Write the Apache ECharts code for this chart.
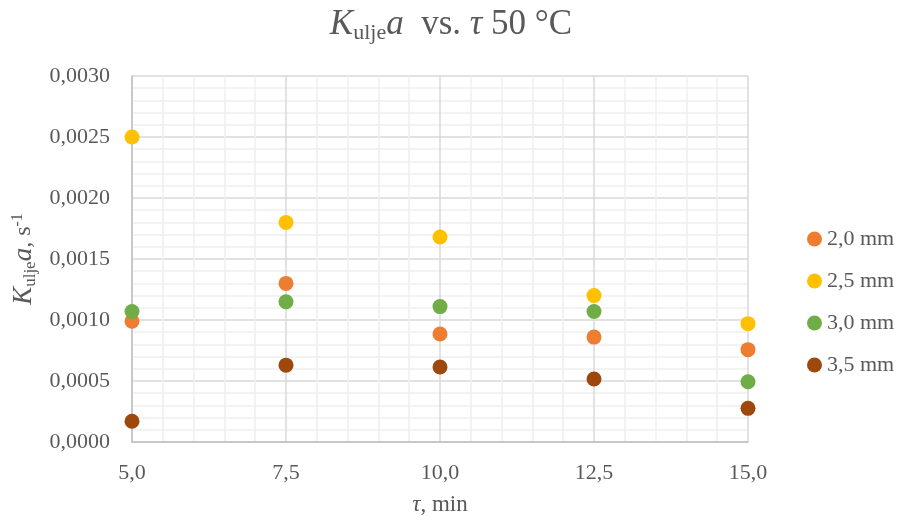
<!DOCTYPE html>
<html><head><meta charset="utf-8">
<script src="https://cdn.jsdelivr.net/npm/echarts@6/dist/echarts.min.js"></script>
<style>html,body{margin:0;padding:0;background:#fff}#c{width:902px;height:522px}</style>
</head><body><div id="c"></div>
<script>
const times = [5.0, 7.5, 10.0, 12.5, 15.0];
const seriesNames = ['2,0 mm', '2,5 mm', '3,0 mm', '3,5 mm'];
const s20 = [0.00099, 0.00130, 0.000885, 0.00086, 0.000757];
const s25 = [0.00250, 0.00180, 0.00168, 0.00120, 0.00097];
const s30 = [0.00107, 0.00115, 0.00111, 0.00107, 0.000494];
const s35 = [0.00017, 0.00063, 0.000615, 0.000516, 0.000276];
const colors = ['#ED7D31', '#FFC000', '#70AD47', '#9E480E'];
const values = [s20, s25, s30, s35];

const FF = '"Liberation Serif","Times New Roman",serif';
const TC = '#595959';
const chart = echarts.init(document.getElementById('c'));
chart.setOption({
  animation: false,
  backgroundColor: '#fff',
  textStyle: {fontFamily: FF},
  title: {
    text: '{k|K}{sub|ulje}{k|a}{n|  vs. }{k|τ}{n| 50 °C}',
    left: 'center', top: 1,
    textStyle: {
      fontWeight: 'normal',
      rich: {
        k: {fontFamily: FF, fontSize: 35, fontStyle: 'italic', fontWeight: 'normal', color: TC, lineHeight: 38},
        n: {fontFamily: FF, fontSize: 35, fontWeight: 'normal', color: TC, lineHeight: 38},
        sub: {fontFamily: FF, fontSize: 22, fontWeight: 'normal', color: TC, lineHeight: 38, padding: [17, 0, 0, 0]}
      }
    }
  },
  legend: {
    orient: 'vertical', left: 802, top: 223, itemGap: 20,
    icon: 'circle', itemWidth: 15, itemHeight: 15,
    textStyle: {fontFamily: FF, fontSize: 22, color: TC, lineHeight: 22, padding: [0, 0, 0, 0]},
    data: seriesNames
  },
  grid: {left: 132, right: 154, top: 76, bottom: 80, containLabel: false, outerBoundsMode: 'none'},
  xAxis: {
    type: 'value', min: 5, max: 15, interval: 2.5,
    name: '{k|τ}{n|, min}', nameLocation: 'middle', nameGap: 51,
    nameTextStyle: {rich: {
      k: {fontFamily: FF, fontSize: 23, fontStyle: 'italic', color: TC},
      n: {fontFamily: FF, fontSize: 23, color: TC}
    }},
    axisLine: {show: true, lineStyle: {color: '#bfbfbf', width: 1.5}},
    axisTick: {show: false},
    axisLabel: {fontFamily: FF, fontSize: 22, color: TC, margin: 20,
      formatter: v => v.toFixed(1).replace('.', ',')},
    splitLine: {show: true, lineStyle: {color: '#d9d9d9', width: 1.5}},
    minorTick: {show: false, splitNumber: 5},
    minorSplitLine: {show: true, lineStyle: {color: '#efefef', width: 1.5}}
  },
  yAxis: {
    type: 'value', min: 0, max: 0.003, interval: 0.0005,
    name: '{k|K}{sub|ulje}{k|a}{n|, s}{sup|-1}', nameLocation: 'middle', nameGap: 92, nameRotate: 90,
    nameTextStyle: {rich: {
      k: {fontFamily: FF, fontSize: 27, fontStyle: 'italic', color: TC, lineHeight: 30},
      n: {fontFamily: FF, fontSize: 24, color: TC, lineHeight: 30},
      sub: {fontFamily: FF, fontSize: 17, color: TC, lineHeight: 30, padding: [12, 0, 0, 0]},
      sup: {fontFamily: FF, fontSize: 16, color: TC, lineHeight: 30, padding: [0, 0, 12, 0]}
    }},
    axisLine: {show: true, lineStyle: {color: '#bfbfbf', width: 1.5}},
    axisTick: {show: false},
    axisLabel: {fontFamily: FF, fontSize: 22, color: TC, margin: 22,
      formatter: v => v.toFixed(4).replace('.', ',')},
    splitLine: {show: true, lineStyle: {color: '#d9d9d9', width: 1.5}},
    minorTick: {show: false, splitNumber: 5},
    minorSplitLine: {show: true, lineStyle: {color: '#efefef', width: 1.5}}
  },
  series: seriesNames.map((n, i) => ({
    name: n, type: 'scatter', symbol: 'circle', symbolSize: 15,
    itemStyle: {color: colors[i], opacity: 1},
    data: times.map((t, j) => [t, values[i][j]])
  }))
});
</script></body></html>
